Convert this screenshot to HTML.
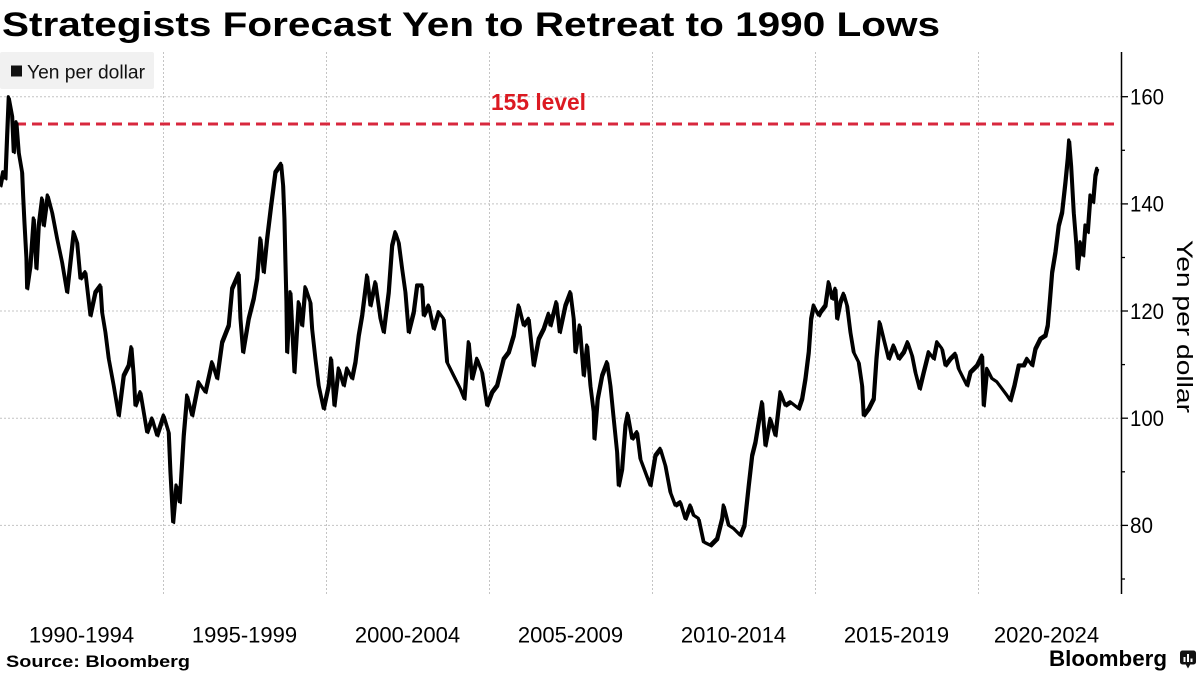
<!DOCTYPE html>
<html>
<head>
<meta charset="utf-8">
<style>
  html,body{margin:0;padding:0;background:#fff;}
  svg{display:block;font-family:"Liberation Sans",sans-serif;}
</style>
</head>
<body>
<svg width="1200" height="675" viewBox="0 0 1200 675" xmlns="http://www.w3.org/2000/svg">
  <defs>
    <polyline id="ser" fill="none" stroke-linejoin="round" stroke-linecap="round" points="
0,185 2.7,171.7 5,178 6.7,135 8.3,96.7 11.7,115 13.3,151.7 16,121.7 18.3,151.7 21.7,171.7 22.7,195 24,221.7 26,258 26.7,288 30,265 33.3,218 36,268 38.3,225 41.7,198 43.3,225 47.3,195 51.7,211.7 56.7,238 61.7,261.7 66.7,291.7 70,261.7 73.3,231.7 76.7,241.7 80,278 85,271.7 90,315 95,291.7 100,285 101.7,311.7 105,331.7 108.3,358 113.3,385 118.3,415 123.3,375 128.3,365 131,346.7 133.3,375 135,405 140,391.7 146.7,431.7 151.7,418 156.7,435 163.3,415 168.3,431.7 170,471.7 172.7,521.7 176,485 179.3,501.7 183.3,435 186.7,395 191.7,415 198.3,381.7 205,391.7 211.7,361.7 216.7,378 221.7,341.7 228.3,325 231.7,288 238.3,273 240,318 242.7,351.7 248.3,318 253.3,298 256.7,278 260,238 263.3,271.7 266.7,238 270.7,205
275,171.7 280.7,163.3 282.7,185 284,218 285,261.7 286,301.7 286.7,351.7 290,291.7 294,371.7 298.3,301.7 301.7,325 305,286.7 310,301.7 311.7,328.3 315,358.3 318.3,385 323.3,408.3 328.3,385 330.7,358 334,405 338.3,368 343.3,385 346.7,368 351.7,378 355,361.7 358.3,335 361.7,315 366.7,275 370,305 375,281.7 380,318 383.3,331.7 388.3,291.7 391.7,245 395,231.7 398.3,241.7 401.7,268 405,291.7 408.3,331.7 413.3,311.7 416.7,285 421.7,285 423.3,315 428.3,305 433.3,328.3 438.3,311.7 443.3,318.3 446.7,361.7 453.3,375 460,388.3 464,398.3 468.3,341.7 471.7,378.3 476.7,358.3 481.7,371.7 486.7,405 491.7,391.7 496.7,385 503.3,358.3 508.3,351.7 513.3,335 518.3,305 523.3,325 528.3,318.3 533.3,365 538.3,338.3 543.3,328.3
548.3,313.3 550,325 556,301.7 559.3,331.7 565,305 570,291.7 573.3,318.3 575,351.7 579.3,325 583.3,375 586.7,345 590,385 593.3,411.7 594,438.3 597.3,398.3 601.7,375 606.7,361.7 610,385 613.3,418.3 616.7,451.7 618.3,485 621.7,468.3 625,425 627.3,413.3 631.7,438.3 636.7,431.7 640,458.3 645,471.7 650,485 655,455 660,448.3 665,465 670,491.7 675,505 680,501.7 685,518.3 690,505 693.3,515 698.3,518.3 703.3,541.7 710,545 716.7,538.3 721.7,518.3 723.3,505 728.3,525 733.3,528.3 740,535 744,525 748.3,485 751.7,455 755,441.7 758.3,421.7 761.7,401.7 765,445 770,418.3 775,435 780,391.7 785,405 790,401.7 798.3,408.3 801.7,398.3 805,378.3 808.3,351.7 810.7,318.3 813.3,305
818.3,315 820,311.7 825,305 828.3,281.7 831.7,298.3 835,288.3 836.7,318.3 840,301.7 843.3,293.3 846.7,305 850,331.7 853.3,351.7 858.3,361.7 861.7,385 863.3,415 868.3,408.3 873.3,398.3 876,358.3 879.3,321.7 883.3,338.3 888.3,358.3 893.3,345 898.3,358.3 903.3,351.7 907.3,341.7 911.7,355 915,371.7 919.3,388.3 923.3,371.7 928.3,351.7 933.3,358.3 936.7,341.7 941.7,348.3 945,365 950,358.3 955,353.3 958.3,368.3 963.3,378.3 966.7,385 970,371.7 976.7,365 981.7,355 983.3,405 986.7,368.3 991.7,378.3 996.7,381.7 1001.7,388.3 1006.7,395 1010,400 1014,385 1018.3,365 1023.3,365 1026.7,358.3 1031.7,365 1035,348.3 1040,338.3 1045,335 1047.3,325 1049.3,301.7 1051.7,271.7 1055,251.7 1058.3,225 1061.7,211.7 1065,181.7 1067.3,158.3 1068.7,140 1070.7,165 1073.3,211.7 1076,245 1077.3,268.3 1080,241.7 1082.7,255 1085,225 1087.3,231.7 1090,195 1092.7,201.7 1095,175 1096.7,168.3"/>
  </defs>
  <rect x="0" y="0" width="1200" height="675" fill="#fff"/>

  <!-- Title -->
  <text x="2" y="36" font-size="34" font-weight="bold" fill="#000" textLength="938" lengthAdjust="spacingAndGlyphs">Strategists Forecast Yen to Retreat to 1990 Lows</text>

  <!-- Gridlines -->
  <g stroke="#c4c4c4" stroke-width="1" stroke-dasharray="2,2" fill="none">
    <line x1="0" y1="96.7" x2="1121" y2="96.7"/>
    <line x1="0" y1="203.9" x2="1121" y2="203.9"/>
    <line x1="0" y1="311.0" x2="1121" y2="311.0"/>
    <line x1="0" y1="418.2" x2="1121" y2="418.2"/>
    <line x1="0" y1="525.4" x2="1121" y2="525.4"/>
    <line x1="163.5" y1="52" x2="163.5" y2="596"/>
    <line x1="326.5" y1="52" x2="326.5" y2="596"/>
    <line x1="489.5" y1="52" x2="489.5" y2="596"/>
    <line x1="652.5" y1="52" x2="652.5" y2="596"/>
    <line x1="815.5" y1="52" x2="815.5" y2="596"/>
    <line x1="978.5" y1="52" x2="978.5" y2="596"/>
  </g>

  <!-- Legend -->
  <rect x="0" y="52" width="154" height="37" fill="#f1f1f1" rx="2"/>
  <rect x="11" y="65.5" width="11" height="11" fill="#111"/>
  <text x="27" y="78.5" font-size="19" fill="#111" textLength="118" lengthAdjust="spacingAndGlyphs">Yen per dollar</text>

  <!-- 155 level -->
  <line x1="16" y1="124" x2="1117" y2="124" stroke="#d8283e" stroke-width="3" stroke-dasharray="10,6"/>
  <text x="491" y="110" font-size="23" font-weight="bold" fill="#dc1a22" textLength="95" lengthAdjust="spacingAndGlyphs">155 level</text>

  <!-- Series -->
  <use href="#ser" stroke="#000" stroke-width="3.2"/>
  <use href="#ser" stroke="#000" stroke-width="2" transform="translate(1.5,1.5)"/>

  <!-- Y axis -->
  <line x1="1121.5" y1="52" x2="1121.5" y2="594" stroke="#000" stroke-width="1.5"/>
  <g stroke="#000" stroke-width="1.3">
    <line x1="1121" y1="96.7" x2="1128" y2="96.7"/>
    <line x1="1121" y1="203.9" x2="1128" y2="203.9"/>
    <line x1="1121" y1="311.0" x2="1128" y2="311.0"/>
    <line x1="1121" y1="418.2" x2="1128" y2="418.2"/>
    <line x1="1121" y1="525.4" x2="1128" y2="525.4"/>
    <line x1="1121" y1="150.3" x2="1125" y2="150.3"/>
    <line x1="1121" y1="257.5" x2="1125" y2="257.5"/>
    <line x1="1121" y1="364.6" x2="1125" y2="364.6"/>
    <line x1="1121" y1="471.8" x2="1125" y2="471.8"/>
    <line x1="1121" y1="579.0" x2="1125" y2="579.0"/>
  </g>
  <g font-size="22" fill="#000">
    <text x="1130" y="104.5" textLength="34" lengthAdjust="spacingAndGlyphs">160</text>
    <text x="1130" y="211.7" textLength="34" lengthAdjust="spacingAndGlyphs">140</text>
    <text x="1130" y="318.8" textLength="34" lengthAdjust="spacingAndGlyphs">120</text>
    <text x="1130" y="426.0" textLength="34" lengthAdjust="spacingAndGlyphs">100</text>
    <text x="1130" y="533.2" textLength="23" lengthAdjust="spacingAndGlyphs">80</text>
  </g>
  <text transform="translate(1177,326.5) rotate(90)" text-anchor="middle" font-size="22.5" fill="#000" textLength="173" lengthAdjust="spacingAndGlyphs">Yen per dollar</text>

  <!-- X labels -->
  <g font-size="22" fill="#000" text-anchor="middle">
    <text x="81.5" y="642.7">1990-1994</text>
    <text x="244.5" y="642.7">1995-1999</text>
    <text x="407.5" y="642.7">2000-2004</text>
    <text x="570.5" y="642.7">2005-2009</text>
    <text x="733.5" y="642.7">2010-2014</text>
    <text x="896.5" y="642.7">2015-2019</text>
    <text x="1046.5" y="642.7">2020-2024</text>
  </g>

  <!-- Footer -->
  <text x="6" y="667" font-size="17" font-weight="bold" fill="#000" textLength="184" lengthAdjust="spacingAndGlyphs">Source:  Bloomberg</text>
  <text x="1049" y="666" font-size="22" font-weight="bold" fill="#000" textLength="118" lengthAdjust="spacingAndGlyphs">Bloomberg</text>
  <g>
    <rect x="1180" y="650.5" width="16" height="14" rx="2.5" fill="#111"/>
    <polygon points="1185.5,664 1190.5,664 1188,668.5" fill="#111"/>
    <rect x="1183.5" y="657" width="2" height="5" fill="#fff"/>
    <rect x="1187" y="654" width="2" height="8" fill="#fff"/>
    <rect x="1190.5" y="658.5" width="2" height="3.5" fill="#fff"/>
  </g>
</svg>
</body>
</html>
